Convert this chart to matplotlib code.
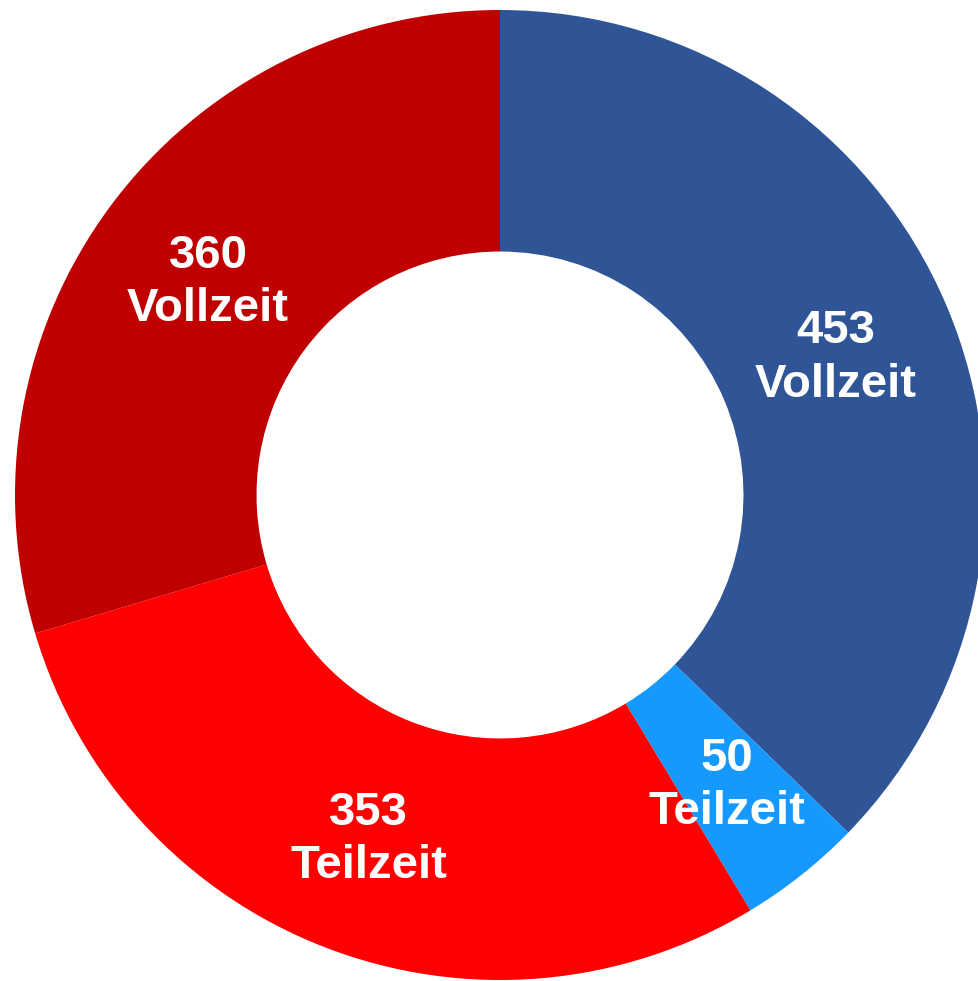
import matplotlib.pyplot as plt
from matplotlib.transforms import offset_copy

# Data (clockwise from 12 o'clock)
values = [453, 50, 353, 360]
categories = ["Vollzeit", "Teilzeit", "Teilzeit", "Vollzeit"]
colors = ["#2F5597", "#1599FF", "#FF0000", "#C00000"]

plt.rcParams['font.family'] = ['Liberation Sans', 'DejaVu Sans']

fig = plt.figure(figsize=(9.79, 9.81), dpi=100)
ax = fig.add_axes([15 / 979, 1 / 981, 970 / 979, 970 / 981])

labels = [f"{v}\n{c}" for v, c in zip(values, categories)]
wedges, texts = ax.pie(values, labels=labels, colors=colors,
                       startangle=90, counterclock=False,
                       radius=1.0, labeldistance=0.751,
                       wedgeprops=dict(width=0.498, linewidth=0),
                       textprops=dict(color="white", fontsize=34,
                                      fontweight="bold"))

# Centre the labels in the ring, nudged down a little like the original
shifted = offset_copy(ax.transData, fig=fig, x=0, y=-5, units="dots")
for t in texts:
    t.set_horizontalalignment("center")
    t.set_verticalalignment("center")
    t.set_linespacing(1.27)
    t.set_transform(shifted)

ax.set_xlim(-1, 1)
ax.set_ylim(-1, 1)
ax.set_aspect("equal")
ax.axis("off")

fig.savefig("out.png", dpi=100)
plt.close(fig)
